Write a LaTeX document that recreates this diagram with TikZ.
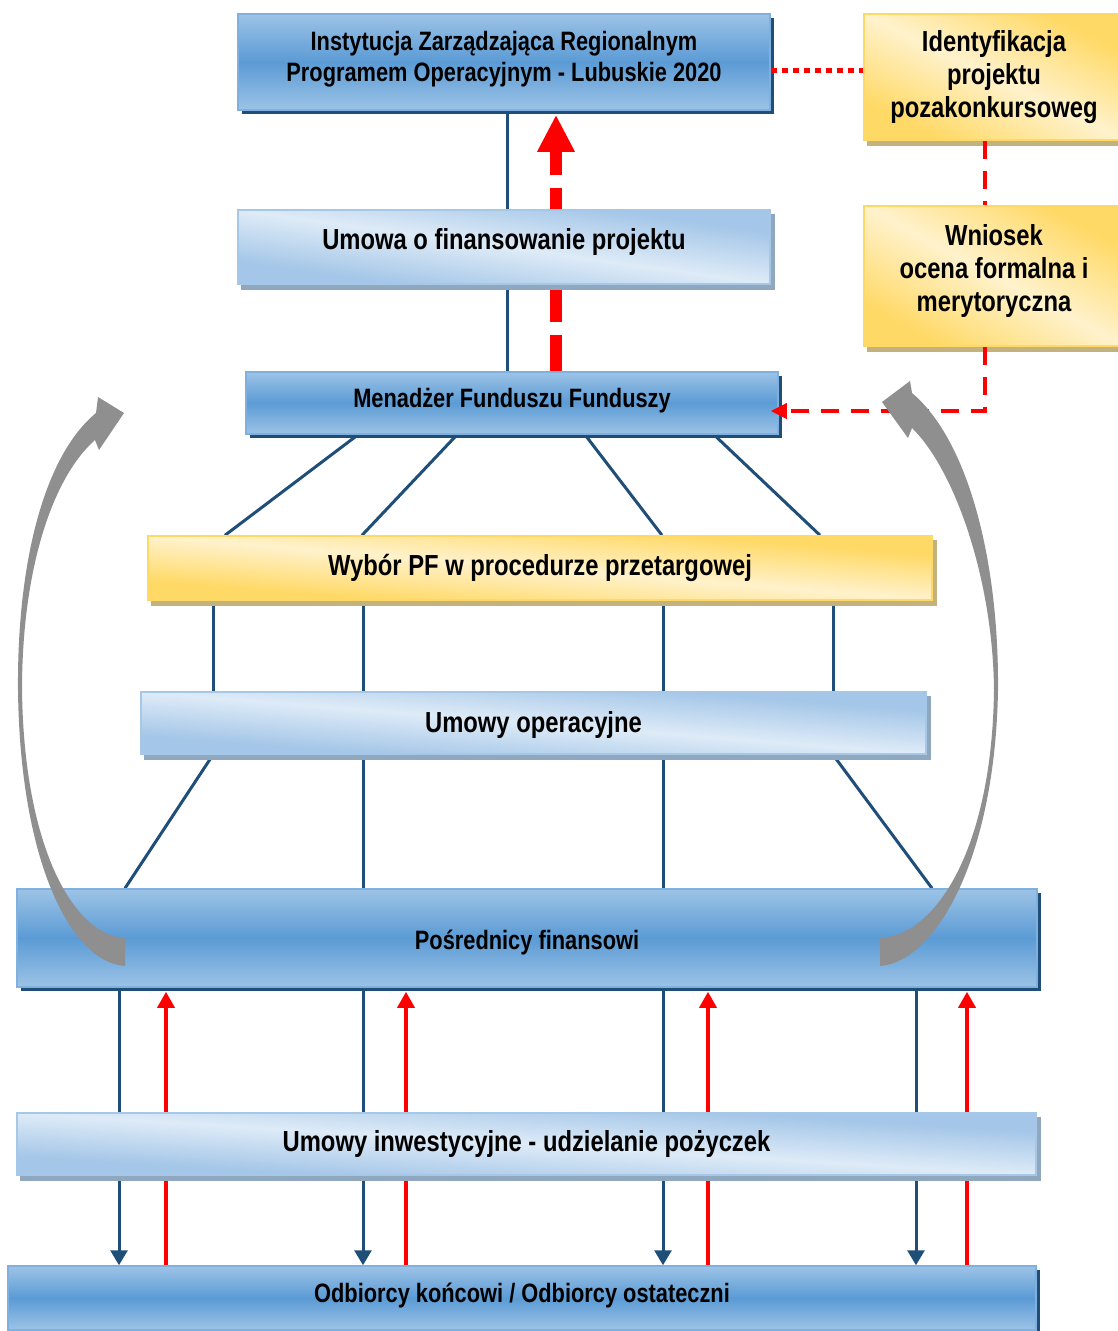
\documentclass[tikz,border=0pt]{standalone}
\usepackage{fontspec}
\setmainfont{Liberation Sans}[FakeStretch=0.82]
\usetikzlibrary{arrows.meta,shadows}
\definecolor{bluetop}{HTML}{9DC3E6}
\definecolor{bluemid}{HTML}{5B9BD5}
\definecolor{blueedge}{HTML}{7FB0E0}
\definecolor{blueshadow}{HTML}{1F4E79}
\definecolor{lightA}{HTML}{DEEBF7}
\definecolor{lightB}{HTML}{A4C6E8}
\definecolor{lightedge}{HTML}{A7C7E7}
\definecolor{lightshadow}{HTML}{8FA8C0}
\definecolor{yelA}{HTML}{FFF2CC}
\definecolor{yelB}{HTML}{FFD966}
\definecolor{yeledge}{HTML}{FFD966}
\definecolor{yelshadow}{HTML}{C4B27E}
\definecolor{linkblue}{HTML}{1F4E79}
\definecolor{arrowgray}{HTML}{8F8F8F}
\pgfdeclarelayer{bg}
\pgfdeclarelayer{mid}
\pgfdeclarelayer{fg}
\pgfsetlayers{bg,mid,main,fg}
\tikzset{
  boxbase/.style={inner sep=0pt, align=center, line width=1.5pt},
  bigtext/.style={font=\bfseries\fontsize{29}{33}\selectfont},
  smalltext/.style={font=\bfseries\fontsize{26.6}{31}\selectfont},
  darkbox/.style={boxbase, draw=blueedge, top color=bluetop, bottom color=bluetop, middle color=bluemid,
    general shadow={fill=blueshadow, shadow xshift=4pt, shadow yshift=-4pt}},
  lightbox/.style={boxbase, draw=lightedge},
  yelbox/.style={boxbase, draw=yeledge},
  blueline/.style={draw=linkblue, line width=3pt},
  bluearrow/.style={blueline, -{Triangle[length=15pt,width=17pt]}},
  redarrow/.style={draw=red, line width=3.5pt, -{Triangle[length=16pt,width=17pt]}},
  reddashed/.style={draw=red, line width=3.5pt, dash pattern=on 18pt off 12pt},
  reddotted/.style={draw=red, line width=5pt, dash pattern=on 6pt off 5pt},
  redthick/.style={draw=red, line width=12pt, dash pattern=on 36pt off 13pt, -{Triangle[length=37pt,width=35pt]}},
  grayarrow/.style={fill=arrowgray}
}
% shadow + diagonal gradient behind a node: #1 node, #2 half width, #3 half height,
% #4 outer colour, #5 inner colour, #6 shadow colour
\newcommand\gradback[6]{%
  \begin{pgfonlayer}{mid}
    \fill[#6] ([xshift=4pt,yshift=-5pt]#1.south west) rectangle ([xshift=4pt,yshift=-5pt]#1.north east);
    \begin{scope}[transform canvas={shift={(#1.center)}, xscale=#2, yscale=#3}]
      \shade[top color=#4, bottom color=#4, middle color=#5, shading angle=-45] (-1,-1) rectangle (1,1);
    \end{scope}
  \end{pgfonlayer}}
\begin{document}
\begin{tikzpicture}[x=1pt,y=-1pt]
\useasboundingbox (0,0) rectangle (1118,1331);
\begin{pgfonlayer}{bg}
\fill[white] (0,0) rectangle (1118,1331);
\end{pgfonlayer}

% boxes
\node[darkbox, smalltext, minimum width=532pt, minimum height=96pt, text depth=11.5pt] (IZ) at (504,62)
  {Instytucja Zarządzająca Regionalnym\\Programem Operacyjnym - Lubuskie 2020};
\node[yelbox, bigtext, minimum width=260pt, minimum height=126pt] (ID) at (994,77)
  {Identyfikacja\\projektu\\pozakonkursoweg};
\node[lightbox, bigtext, minimum width=532pt, minimum height=74pt] (UF) at (504,247)
  {\raisebox{5pt}[\height][\depth]{Umowa o finansowanie projektu}};
\node[yelbox, bigtext, minimum width=260pt, minimum height=140pt, text depth=17pt] (WN) at (994,276)
  {Wniosek\\ocena formalna i\\merytoryczna};
\node[darkbox, smalltext, minimum width=532pt, minimum height=62pt] (MF) at (512,403)
  {\raisebox{2pt}[\height][\depth]{Menadżer Funduszu Funduszy}};
\node[yelbox, bigtext, minimum width=784pt, minimum height=64pt] (WP) at (540,568)
  {Wybór PF w procedurze przetargowej};
\node[lightbox, bigtext, minimum width=785pt, minimum height=62pt] (UO) at (533.5,723)
  {\raisebox{-2pt}[\height][\depth]{Umowy operacyjne}};
\node[darkbox, smalltext, minimum width=1020pt, minimum height=98pt] (PF) at (527,938)
  {\raisebox{-4pt}[\height][\depth]{Pośrednicy finansowi}};
\node[lightbox, bigtext, minimum width=1019pt, minimum height=62pt] (UI) at (526.5,1144)
  {Umowy inwestycyjne - udzielanie pożyczek};
\node[darkbox, smalltext, minimum width=1028pt, minimum height=64pt] (OD) at (522,1298)
  {\raisebox{3pt}[\height][\depth]{Odbiorcy końcowi / Odbiorcy ostateczni}};

% gradients and shadows of the light and yellow boxes
\gradback{ID}{130}{63}{yelB}{yelA}{yelshadow}
\gradback{WN}{130}{70}{yelB}{yelA}{yelshadow}
\gradback{WP}{392}{32}{yelB}{yelA}{yelshadow}
\gradback{UF}{266}{37}{lightB}{lightA}{lightshadow}
\gradback{UO}{392.5}{31}{lightB}{lightA}{lightshadow}
\gradback{UI}{509.5}{31}{lightB}{lightA}{lightshadow}

% helper coordinates
\coordinate (xa) at (507,0);
\coordinate (xr) at (556,0);
\coordinate (yd) at (0,70);
\coordinate (yw) at (0,411);
\coordinate (xw) at (985,0);
\coordinate (m1) at (358,0);
\coordinate (m2) at (457,0);
\coordinate (m3) at (585,0);
\coordinate (m4) at (714,0);
\coordinate (w1) at (225,0);
\coordinate (w2) at (362,0);
\coordinate (w3) at (662,0);
\coordinate (w4) at (820,0);
\coordinate (v1) at (213,0);
\coordinate (v2) at (363,0);
\coordinate (v3) at (663,0);
\coordinate (v4) at (833,0);
\coordinate (p1) at (125,0);
\coordinate (p4) at (932,0);
\coordinate (b1) at (119,0);
\coordinate (b2) at (363,0);
\coordinate (b3) at (663,0);
\coordinate (b4) at (916,0);
\coordinate (r1) at (166,0);
\coordinate (r2) at (406,0);
\coordinate (r3) at (708,0);
\coordinate (r4) at (967,0);

\begin{pgfonlayer}{bg}
  \draw[blueline] (IZ.south -| xa) -- (UF.north -| xa);
  \draw[blueline] (UF.south -| xa) -- (MF.north -| xa);
  \draw[redthick] (MF.north -| xr) -- ([yshift=-4pt]IZ.south -| xr);
  \draw[blueline] (MF.south -| m1) -- (WP.north -| w1);
  \draw[blueline] (MF.south -| m2) -- (WP.north -| w2);
  \draw[blueline] (MF.south -| m3) -- (WP.north -| w3);
  \draw[blueline] (MF.south -| m4) -- (WP.north -| w4);
  \foreach \c in {v1,v2,v3,v4}{
    \draw[blueline] (WP.south -| \c) -- (UO.north -| \c);
  }
  \draw[blueline] (UO.south -| v1) -- (PF.north -| p1);
  \draw[blueline] (UO.south -| v2) -- (PF.north -| v2);
  \draw[blueline] (UO.south -| v3) -- (PF.north -| v3);
  \draw[blueline] (UO.south -| v4) -- (PF.north -| p4);
  \foreach \c in {b1,b2,b3,b4}{
    \draw[bluearrow] (PF.south -| \c) -- (OD.north -| \c);
  }
  \foreach \c in {r1,r2,r3,r4}{
    \draw[redarrow] (OD.north -| \c) -- ([yshift=-4pt]PF.south -| \c);
  }
\end{pgfonlayer}

% red dashed / dotted links on top
\draw[reddotted] (IZ.east |- yd) -- (ID.west |- yd);
\draw[reddashed] (ID.south -| xw) -- (WN.north -| xw);
\draw[reddashed, -{Triangle[length=16pt,width=15pt]}] (WN.south -| xw) -- (xw |- yw) -- ([xshift=-8pt]MF.east |- yw);

% gray curved arrows
\begin{pgfonlayer}{fg}
\fill[grayarrow] (125,966) .. controls (70,962) and (20,860) .. (18,690)
  .. controls (17,560) and (45,455) .. (96,413) -- (98,397) -- (124,413) -- (99,450) -- (95,440)
  .. controls (52,478) and (22,570) .. (22,690) .. controls (24,850) and (75,936) .. (125,938) -- cycle;
\fill[grayarrow] (880,966) .. controls (935,962) and (995,860) .. (998,690)
  .. controls (999,560) and (968,440) .. (912,393) -- (910,381) -- (882,402) -- (908,438) -- (912,428)
  .. controls (955,470) and (993,580) .. (994,690) .. controls (992,850) and (935,936) .. (880,938) -- cycle;
\end{pgfonlayer}
\end{tikzpicture}
\end{document}
